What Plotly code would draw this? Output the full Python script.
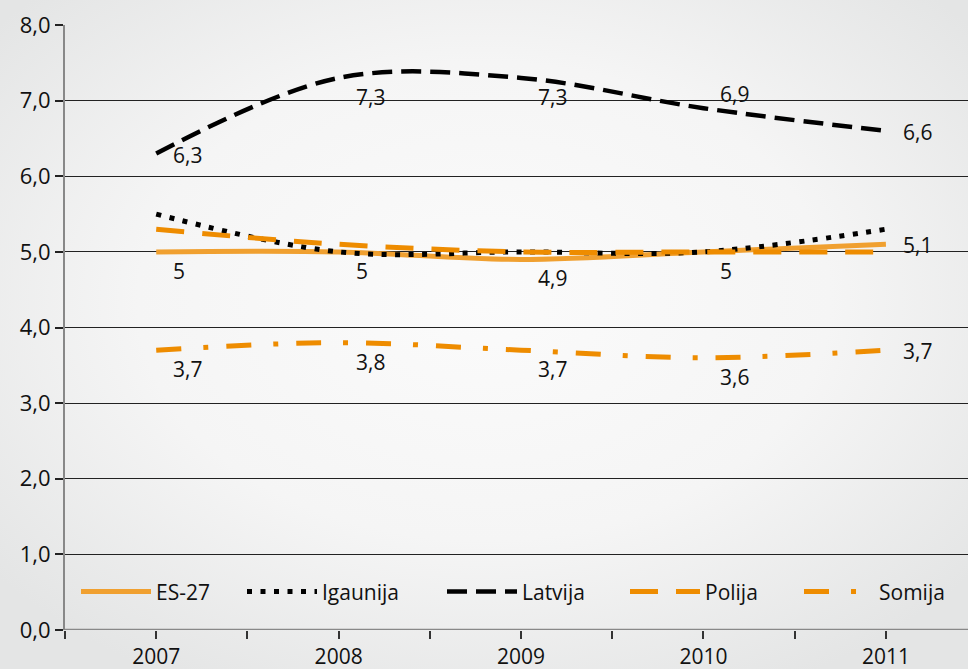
import base64
import plotly.graph_objects as go

# ==================== DATA ====================
years    = [2007, 2008, 2009, 2010, 2011]
es27     = [5.0, 5.0, 4.9, 5.0, 5.1]
igaunija = [5.5, 5.0, 5.0, 5.0, 5.3]
latvija  = [6.3, 7.3, 7.3, 6.9, 6.6]
polija   = [5.3, 5.1, 5.0, 5.0, 5.0]
somija   = [3.7, 3.8, 3.7, 3.6, 3.7]

# ==================== STYLE ====================
FONT = 'Open Sans'
ORANGE = '#ee8c00'
W, H = 968, 669
L, R, T, B = 65, 0, 25, 39
PLOT_W, PLOT_H = W - L - R, H - T - B

series = [
  # name, values, color, width, dash, labelled?, legend text start (px)
  ('ES-27',    es27,     '#f0a030', 5,   'solid',              True,  157),
  ('Igaunija', igaunija, 'black',   5,   '5px,8.5px',          False, 323),
  ('Latvija',  latvija,  'black',   4.5, '20px,9px',           True,  523),
  ('Polija',   polija,   ORANGE,    5,   '28px,18px',          False, 706),
  ('Somija',   somija,   ORANGE,    5,   '25px,22px,5px,18px', True,  880),
]

# label placement per point: 'b' below-right, 'r' right, 'a' above-right
label_pos = {
  'ES-27':   ['b', 'b', 'b', 'b', 'r'],
  'Latvija': ['r', 'b', 'b', 'a', 'r'],
  'Somija':  ['b', 'b', 'b', 'b', 'r'],
}
YSHIFT = {'b': -19, 'r': -1, 'a': 14}

# soft grey vignette behind the chart
BG_SVG = (
  '<svg xmlns="http://www.w3.org/2000/svg" width="968" height="669">'
  '<defs><radialGradient id="g" cx="50%" cy="45%" r="65%">'
  '<stop offset="0" stop-color="#fbfbfb"/><stop offset="0.55" stop-color="#f5f5f5"/>'
  '<stop offset="1" stop-color="#e4e5e5"/></radialGradient></defs>'
  '<rect width="968" height="669" fill="url(#g)"/></svg>'
)
BG_URI = 'data:image/svg+xml;base64,' + base64.b64encode(BG_SVG.encode()).decode()


def fmt(v):
  return f'{v:g}'.replace('.', ',')


fig = go.Figure()
annotations = []
legends = {}
for i, (name, vals, color, width, dash, labelled, leg_x) in enumerate(series):
  leg_id = 'legend' if i == 0 else f'legend{i + 1}'
  fig.add_trace(go.Scatter(
    x=years, y=vals, name=name, mode='lines', legend=leg_id,
    line=dict(color=color, width=width, dash=dash, shape='spline', smoothing=1),
    hovertemplate='%{x}: %{y}<extra>' + name + '</extra>',
  ))
  # one legend per series so each entry sits where the reference puts it
  legends[leg_id] = dict(
    x=(leg_x - 81 - L) / PLOT_W, xanchor='left', y=0.063, yanchor='middle',
    bgcolor='rgba(0,0,0,0)', font=dict(family=FONT, size=21, color='#111'),
    itemwidth=70,
  )
  if labelled:
    for x, v, p in zip(years, vals, label_pos[name]):
      annotations.append(dict(
        x=x, y=v, text=fmt(v), showarrow=False,
        xanchor='left', yanchor='middle', xshift=15, yshift=YSHIFT[p],
        font=dict(family=FONT, size=21, color='#111'),
      ))

# x ticks at each year and midway between years
tickvals = [y + d for y in years for d in (0, 0.5)] + [years[0] - 0.5]
ticktext = [str(y) if d == 0 else '' for y in years for d in (0, 0.5)] + ['']

fig.update_layout(
  width=W, height=H,
  margin=dict(l=L, r=R, t=T, b=B),
  paper_bgcolor='#f1f1f1',
  plot_bgcolor='rgba(0,0,0,0)',
  separators=',.',
  font=dict(family=FONT, size=21, color='#111'),
  annotations=annotations,
  showlegend=True,
  **legends,
  images=[dict(
    source=BG_URI, xref='paper', yref='paper',
    x=-L / PLOT_W, y=1 + T / PLOT_H, sizex=W / PLOT_W, sizey=H / PLOT_H,
    xanchor='left', yanchor='top', sizing='stretch', layer='below',
  )],
  xaxis=dict(
    range=[2006.5, 2011.45], tickvals=tickvals, ticktext=ticktext,
    showgrid=False, zeroline=False, showline=False, automargin=False,
    ticks='outside', ticklen=8, tickwidth=1.5, tickcolor='#333',
    tickfont=dict(family=FONT, size=21),
  ),
  yaxis=dict(
    range=[0, 8], dtick=1, tickformat='.1f', automargin=False,
    showgrid=True, gridcolor='#222', gridwidth=1,
    zeroline=False, showline=True, linecolor='#888', linewidth=2,
    ticks='outside', ticklen=8, tickwidth=2, tickcolor='#222',
    tickfont=dict(family=FONT, size=22),
  ),
)

# axis line along 0,0
fig.add_hline(y=0, line=dict(color='#888', width=2.5), layer='above')

# the page's default body margin would push the figure off the window
fig.write_html(
  'out.html',
  config={'displayModeBar': False},
  post_script="document.body.style.margin='0';",
)
